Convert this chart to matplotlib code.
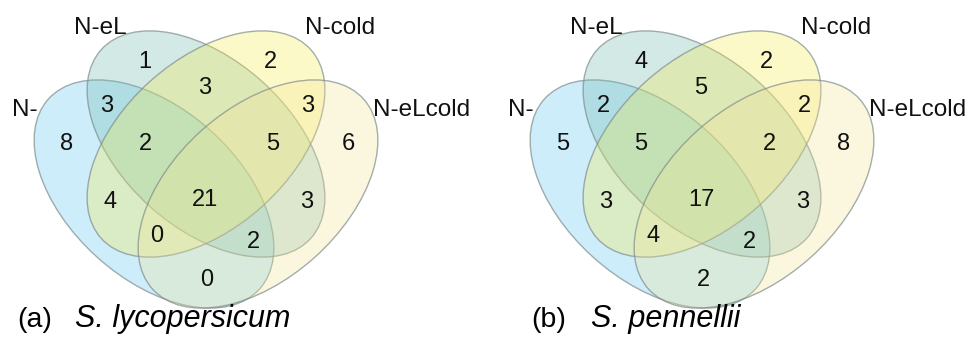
import matplotlib
matplotlib.use("Agg")
import matplotlib.pyplot as plt
from matplotlib.patches import Ellipse
from matplotlib.colors import to_rgba

plt.rcParams['font.family'] = ['Liberation Sans', 'DejaVu Sans']

# Sets and their fill colours
set_names = ["N-", "N-eL", "N-cold", "N-eLcold"]
set_colors = ["#5cc6f0", "#6cb8ae", "#f6ec4c", "#f4e596"]

# Regions, coded by membership in (N-, N-eL, N-cold, N-eLcold)
regions = ["1000", "0100", "0010", "0001",
           "1100", "0110", "0011",
           "1110", "0111",
           "1010", "0101", "1111",
           "1011", "1101", "1001"]
counts_lycopersicum = [8, 1, 2, 6, 3, 3, 3, 2, 5, 4, 3, 21, 0, 2, 0]
counts_pennellii = [5, 4, 2, 8, 2, 5, 2, 5, 2, 3, 3, 17, 4, 2, 2]

panel_tags = ["(a)", "(b)"]
species = ["S. lycopersicum", "S. pennellii"]

# ---- layout (pixel units, y downward, relative to a panel's origin) ----
ELLIPSES = [  # cx, cy, width, height, angle
    (154, 194, 284, 170, 42),
    (206, 144, 282, 168, 42),
    (206, 144, 282, 168, -42),
    (258, 194, 284, 170, -42),
]
REGION_POS = {
    "1000": (67, 142), "0100": (145, 60), "0010": (270, 60), "0001": (348, 142),
    "1100": (107, 104), "0110": (205, 85), "0011": (308, 104),
    "1110": (145, 142), "0111": (273, 142),
    "1010": (110, 200), "0101": (307, 200), "1111": (205, 197),
    "1011": (157, 233), "1101": (253, 240), "1001": (207, 277),
}
NAME_POS = [(25, 107), (100, 25), (340, 25), (422, 107)]
PANEL_X = [0, 496]
TAG_X = [17, 531]
SPECIES_X = [75, 591]
CAPTION_BASE = 327

fig = plt.figure(figsize=(9.68, 3.38), dpi=100)
ax = fig.add_axes([0, 0, 1, 1])
ax.set_xlim(0, 968)
ax.set_ylim(338, 0)
ax.axis("off")

edge = to_rgba("#808c8c", 0.7)

for p, counts in enumerate([counts_lycopersicum, counts_pennellii]):
    ox = PANEL_X[p]
    for (cx, cy, w, h, ang), col in zip(ELLIPSES, set_colors):
        ax.add_patch(Ellipse((ox + cx, cy), w, h, angle=ang,
                             facecolor=to_rgba(col, 0.3), edgecolor=edge,
                             linewidth=1.0))
    for key, n in zip(regions, counts):
        x, y = REGION_POS[key]
        ax.text(ox + x, y + 8.5, str(n), ha="center", va="baseline",
                fontsize=17, color="#111111")
    for name, (x, y) in zip(set_names, NAME_POS):
        ax.text(ox + x, y + 8.5, name, ha="center", va="baseline",
                fontsize=17.5, color="#111111")
    ax.text(TAG_X[p], CAPTION_BASE, panel_tags[p], ha="left", va="baseline",
            fontsize=20.5, color="black")
    ax.text(SPECIES_X[p], CAPTION_BASE, species[p], ha="left", va="baseline",
            fontsize=22, style="italic", color="black")

fig.savefig("out.png", dpi=100)
